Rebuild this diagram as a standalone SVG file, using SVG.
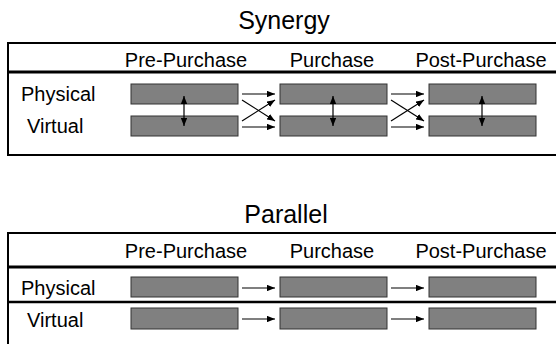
<svg xmlns="http://www.w3.org/2000/svg" width="556" height="344" viewBox="0 0 556 344">
<style>
text{font-family:"Liberation Sans",Arial,sans-serif;fill:#000}
.title{font-size:25px;text-anchor:middle}
.hdr{font-size:20px;text-anchor:middle}
.lbl{font-size:20px}
.frame{fill:none;stroke:#000;stroke-width:2}
.sep{stroke:#000;stroke-width:3}
.sep2{stroke:#000;stroke-width:2.5}
.bar{fill:#808080;stroke:#333;stroke-width:1}
.arr{stroke:#000;stroke-width:1.2;fill:none;marker-end:url(#ah)}
.darr{stroke:#000;stroke-width:1.2;fill:none;marker-end:url(#ah);marker-start:url(#ahs)}
</style>
<defs>
<marker id="ah" viewBox="0 0 10 8" refX="10" refY="4" markerWidth="8" markerHeight="6.4" markerUnits="userSpaceOnUse" orient="auto"><path d="M0,0L10,4L0,8z" fill="#000"/></marker>
<marker id="ahs" viewBox="0 0 10 8" refX="0" refY="4" markerWidth="8" markerHeight="6.4" markerUnits="userSpaceOnUse" orient="auto"><path d="M10,0L0,4L10,8z" fill="#000"/></marker>
</defs>
<g id="synergy-table">
<text class="title" x="284" y="29">Synergy</text>
<rect class="frame" x="8" y="43" width="560" height="112"/>
<line class="sep" x1="8" y1="72" x2="556" y2="72"/>
<text class="hdr" x="186" y="67">Pre-Purchase</text>
<text class="hdr" x="332" y="67">Purchase</text>
<text class="hdr" x="481" y="67">Post-Purchase</text>
<text class="lbl" x="21" y="101">Physical</text>
<text class="lbl" x="27" y="133">Virtual</text>
</g>
<g id="s-pre-phys"><rect class="bar" x="131" y="84" width="107" height="20"/></g>
<g id="s-pre-virt"><rect class="bar" x="131" y="116" width="107" height="20"/></g>
<g id="s-pur-phys"><rect class="bar" x="280" y="84" width="107" height="20"/></g>
<g id="s-pur-virt"><rect class="bar" x="280" y="116" width="107" height="20"/></g>
<g id="s-post-phys"><rect class="bar" x="429" y="84" width="107" height="20"/></g>
<g id="s-post-virt"><rect class="bar" x="429" y="116" width="107" height="20"/></g>
<g id="parallel-table">
<text class="title" x="286" y="223">Parallel</text>
<rect class="frame" x="8" y="233" width="560" height="130"/>
<line class="sep" x1="8" y1="267" x2="556" y2="267"/>
<line class="sep2" x1="8" y1="302" x2="556" y2="302"/>
<text class="hdr" x="186" y="258">Pre-Purchase</text>
<text class="hdr" x="332" y="258">Purchase</text>
<text class="hdr" x="481" y="258">Post-Purchase</text>
<text class="lbl" x="21" y="295">Physical</text>
<text class="lbl" x="27" y="327">Virtual</text>
</g>
<g id="p-pre-phys"><rect class="bar" x="131" y="277" width="107" height="20"/></g>
<g id="p-pre-virt"><rect class="bar" x="131" y="308" width="107" height="21"/></g>
<g id="p-pur-phys"><rect class="bar" x="280" y="277" width="107" height="20"/></g>
<g id="p-pur-virt"><rect class="bar" x="280" y="308" width="107" height="21"/></g>
<g id="p-post-phys"><rect class="bar" x="429" y="277" width="107" height="20"/></g>
<g id="p-post-virt"><rect class="bar" x="429" y="308" width="107" height="21"/></g>
<g id="connectors">
<line class="darr" x1="184" y1="96" x2="184" y2="126"/>
<line class="darr" x1="333" y1="96" x2="333" y2="126"/>
<line class="darr" x1="482" y1="96" x2="482" y2="126"/>
<line class="arr" x1="242" y1="94" x2="275" y2="94"/>
<line class="arr" x1="242" y1="127" x2="275" y2="127"/>
<line class="arr" x1="242" y1="100" x2="275" y2="121"/>
<line class="arr" x1="242" y1="121" x2="275" y2="100"/>
<line class="arr" x1="391" y1="94" x2="424" y2="94"/>
<line class="arr" x1="391" y1="127" x2="424" y2="127"/>
<line class="arr" x1="391" y1="100" x2="424" y2="121"/>
<line class="arr" x1="391" y1="121" x2="424" y2="100"/>
<line class="arr" x1="242" y1="288" x2="275" y2="288"/>
<line class="arr" x1="242" y1="319" x2="275" y2="319"/>
<line class="arr" x1="391" y1="288" x2="424" y2="288"/>
<line class="arr" x1="391" y1="319" x2="424" y2="319"/>
</g>
</svg>
